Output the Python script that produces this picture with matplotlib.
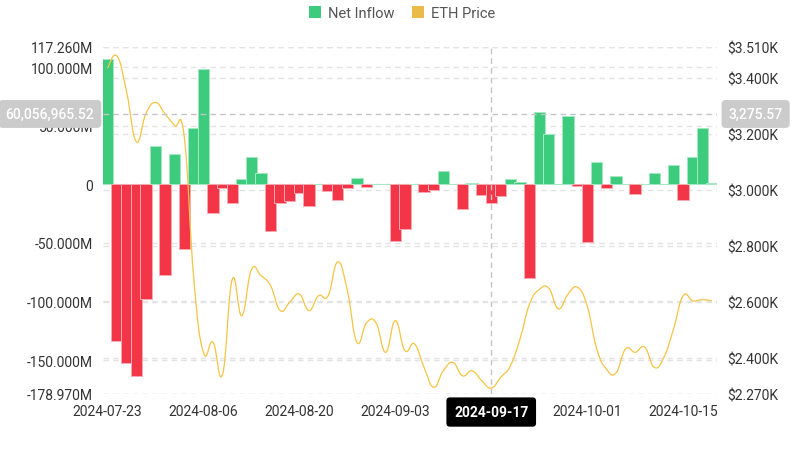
import numpy as np
import pandas as pd
import matplotlib
matplotlib.use('Agg')
import matplotlib.pyplot as plt
from matplotlib.path import Path
from matplotlib.patches import PathPatch, Patch
from matplotlib.transforms import blended_transform_factory as blend

plt.rcParams['font.family'] = ['Roboto', 'DejaVu Sans']

############################## DATOS ##########################################
# dias habiles (incluye 2024-09-02 con flujo 0)
dias = pd.bdate_range('2024-07-23', '2024-10-18').strftime('%Y-%m-%d').tolist()

# flujo neto diario, millones USD
net_inflow = [106.7, -133.7, -152.3, -163.6, -98.2, 32.7, -77.7, 26.1, -55.0, 48.3,
              98.2, -24.3, -2.9, -16.2, 4.3, 23.6, 9.9, -39.8, -15.7, -14.2,
              -7.2, -18.5, 0.0, -6.0, -13.6, -3.2, 5.4, -1.9, 0.0, 0.0,
              -48.4, -37.9, 0.0, -6.5, -5.1, 11.0, 0.0, -20.8, 0.9, -9.4,
              -15.7, -10.0, 4.8, 2.3, -80.0, 62.0, 42.7, 0.0, 58.3, -1.0,
              -49.2, 19.1, -3.2, 6.7, 0.0, -8.6, 0.0, 9.4, 0.0, 16.5,
              -13.2, 23.6, 47.8, 1.4]

# precio ETH (USD)
eth_price = [3434, 3477, 3348, 3172, 3271, 3312, 3271, 3229, 3190, 2680,
             2419, 2455, 2341, 2679, 2550, 2714, 2693, 2657, 2568, 2598,
             2627, 2568, 2621, 2621, 2742, 2640, 2455, 2524, 2524, 2419,
             2532, 2425, 2449, 2365, 2294, 2353, 2383, 2335, 2353, 2318,
             2291, 2330, 2371, 2467, 2592, 2643, 2648, 2574, 2627, 2651,
             2585, 2431, 2359, 2345, 2431, 2419, 2437, 2365, 2401, 2502,
             2621, 2603, 2607, 2603]

left_ticks = [-178.97, -150, -100, -50, 0, 50, 100, 117.26]
right_ticks = [2270, 2400, 2600, 2800, 3000, 3200, 3400, 3510]
tick_idx = [0, 10, 20, 30, 40, 50, 60]

# posicion del cursor (tooltip)
cursor_idx = 40
cursor_inflow = 60056965.52
cursor_price = 3275.57

verde = '#3DCC7D'
rojo = '#F23648'
amarillo = '#F6C443'
gris_txt = '#333333'
gris_grid = '#e3e3e3'


def curva_suave(x, y, k=0.22):
    # bezier cubica que pasa por los puntos (como smooth de echarts)
    x = np.asarray(x, float)
    y = np.asarray(y, float)
    n = len(x)
    verts = [(x[0], y[0])]
    codes = [Path.MOVETO]
    for i in range(n - 1):
        i0 = max(i - 1, 0)
        i3 = min(i + 2, n - 1)
        c1 = (x[i] + (x[i + 1] - x[i0]) * k, y[i] + (y[i + 1] - y[i0]) * k)
        c2 = (x[i + 1] - (x[i3] - x[i]) * k, y[i + 1] - (y[i3] - y[i]) * k)
        verts += [c1, c2, (x[i + 1], y[i + 1])]
        codes += [Path.CURVE4] * 3
    return Path(verts, codes)


############################## FIGURA #########################################
fig = plt.figure(figsize=(8.04, 4.56), dpi=100)
ax = fig.add_axes([0.1277, 0.1338, 0.7637, 0.7610])
ax2 = ax.twinx()

idx = np.arange(len(dias))
ax.set_xlim(-0.5, len(dias) - 0.5)
ax.set_ylim(left_ticks[0], left_ticks[-1])
ax2.set_ylim(right_ticks[0], right_ticks[-1])

# grid izquierdo y derecho, detras de las barras
for v in left_ticks:
    ax.axhline(v, color=gris_grid, lw=1, ls=(0, (4, 3)), zorder=0)
tr_der = blend(ax.transAxes, ax2.transData)
for p in right_ticks:
    ax.plot([0, 1], [p, p], transform=tr_der, color=gris_grid, lw=1,
            ls=(0, (4, 3)), zorder=0)

colores = [verde if v >= 0 else rojo for v in net_inflow]
bordes = ['#a6e8c2' if v >= 0 else '#f8a9b2' for v in net_inflow]
ax.bar(idx, net_inflow, width=1.18, color=colores, edgecolor=bordes,
       linewidth=0.7, zorder=2)

# linea de precio
ax2.add_patch(PathPatch(curva_suave(idx, eth_price), fill=False,
                        edgecolor=amarillo, lw=0.9, zorder=3))

# ejes
ax.set_yticks(left_ticks)
ax.set_yticklabels(['0' if v == 0 else f'{v:.3f}M' for v in left_ticks])
ax2.set_yticks(right_ticks)
ax2.set_yticklabels([f'${p / 1000:.3f}K' for p in right_ticks])
ax.set_xticks(tick_idx)
# la etiqueta del dia del cursor la tapa la caja negra
ax.set_xticklabels(['' if i == cursor_idx else dias[i] for i in tick_idx])
for a in (ax, ax2):
    for s in a.spines.values():
        s.set_visible(False)
ax.tick_params(axis='y', length=0, pad=7, labelsize=10, labelcolor=gris_txt)
ax.tick_params(axis='x', length=0, pad=7, labelsize=10, labelcolor=gris_txt)
ax2.tick_params(axis='y', length=0, pad=7.5, labelsize=10, labelcolor=gris_txt)

# cursor
cy = cursor_inflow / 1e6
ax2.axvline(cursor_idx, color='#c4c4c4', lw=1, ls=(0, (4, 3)), zorder=5)
ax2.plot([0, 1], [cy, cy], transform=blend(ax2.transAxes, ax.transData),
         color='#c4c4c4', lw=1, ls=(0, (4, 3)), zorder=5)
caja_gris = dict(boxstyle='round,pad=0.5,rounding_size=0.3', fc='#cbcbcb', ec='none')
ax2.annotate(f'{cursor_inflow:,.2f}', xy=(0, cy), xycoords=blend(ax2.transAxes, ax.transData),
             xytext=(-6, 0), textcoords='offset points', ha='right', va='center',
             fontsize=10, color='white', fontweight='medium', bbox=caja_gris,
             zorder=10, annotation_clip=False)
ax2.annotate(f'{cursor_price:,.2f}', xy=(1, cy), xycoords=blend(ax2.transAxes, ax.transData),
             xytext=(8.5, 0), textcoords='offset points', ha='left', va='center',
             fontsize=10, color='white', fontweight='medium', bbox=caja_gris,
             zorder=10, annotation_clip=False)
ax2.annotate(dias[cursor_idx], xy=(cursor_idx, 0), xycoords=blend(ax2.transData, ax2.transAxes),
             xytext=(0, -13), textcoords='offset points', ha='center', va='center',
             fontsize=10, color='white', fontweight='bold',
             bbox=dict(boxstyle='round,pad=0.55,rounding_size=0.25', fc='black', ec='none'),
             zorder=10, annotation_clip=False)

# leyenda
fig.legend(handles=[Patch(fc=verde, ec='none'), Patch(fc='#EBBB4A', ec='none')],
           labels=['Net Inflow', 'ETH Price'], loc='center',
           bbox_to_anchor=(0.5, 1 - 14 / 456), ncol=2, frameon=False,
           fontsize=10.5, handlelength=0.85, handleheight=0.85, handletextpad=0.45,
           columnspacing=1.2, labelcolor='#555555')

fig.savefig('out.png', dpi=100)
